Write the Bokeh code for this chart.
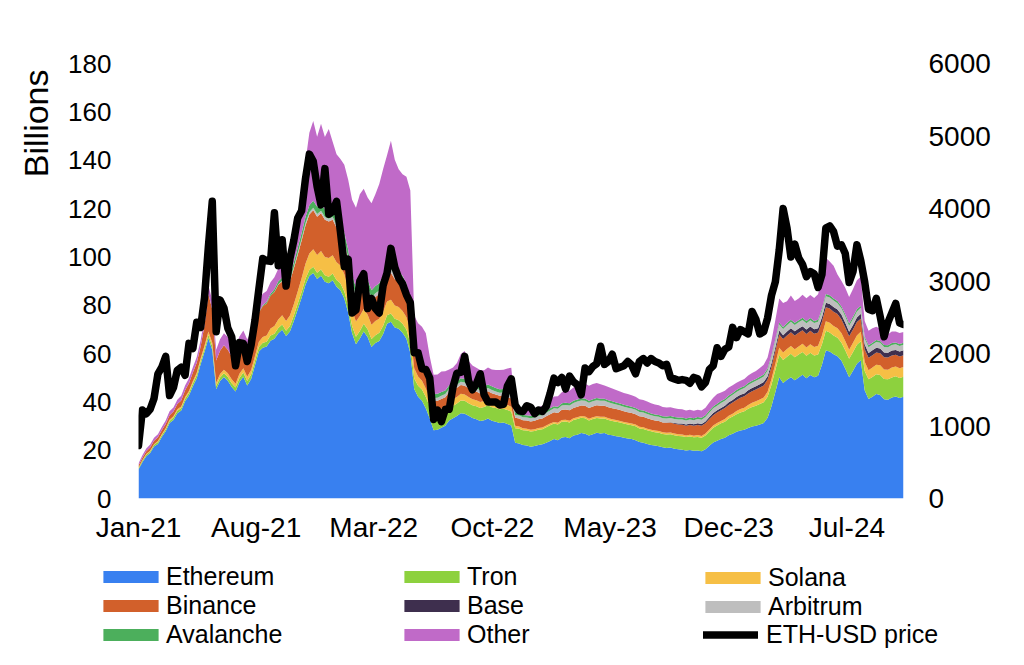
import pandas as pd
from bokeh.plotting import figure
from bokeh.models import (ColumnDataSource, Range1d, LinearAxis, FixedTicker,
                          DatetimeTickFormatter, Legend, LegendItem, Title)
from bokeh.embed import file_html
from bokeh.resources import INLINE

# ---------------- data (weekly, from 2021-01-01) ----------------
START = "2021-01-01"

eth_usd = [
    730, 1220, 1170, 1230, 1380, 1720, 1810, 1960, 1420, 1530,
    1770, 1810, 1700, 2140, 2070, 2430, 2360, 2770, 3480, 4100,
    2300, 2740, 2630, 2350, 2230, 1830, 2150, 2140, 1890, 2120,
    2460, 2890, 3310, 3280, 3270, 3940, 3210, 3570, 2930, 3310,
    3560, 3870, 3970, 4410, 4750, 4650, 4300, 4050, 4550, 3920,
    3960, 4100, 3680, 3200, 3300, 2560, 2600, 3000, 3100, 2620,
    2760, 2620, 2560, 2940, 3110, 3450, 3190, 3040, 2960, 2810,
    2700, 2010, 2010, 1790, 1780, 1660, 1090, 1220, 1060, 1230,
    1230, 1540, 1730, 1740, 1960, 1620, 1500, 1580, 1720, 1430,
    1330, 1330, 1330, 1290, 1300, 1550, 1650, 1290, 1210, 1200,
    1280, 1260, 1170, 1220, 1200, 1270, 1450, 1660, 1600, 1670,
    1510, 1690, 1610, 1570, 1430, 1800, 1750, 1820, 1860, 2100,
    1850, 1890, 1990, 1790, 1810, 1830, 1890, 1840, 1720, 1890,
    1930, 1870, 1930, 1890, 1870, 1830, 1850, 1670, 1650, 1630,
    1640, 1630, 1590, 1670, 1650, 1540, 1600, 1780, 1830, 2080,
    1960, 2060, 2090, 2360, 2220, 2330, 2300, 2270, 2580, 2470,
    2270, 2300, 2490, 2800, 2990, 3430, 4000, 3730, 3330, 3510,
    3320, 3230, 3060, 3130, 3100, 2910, 3090, 3730, 3760, 3680,
    3480, 3500, 3380, 2980, 3130, 3500, 3280, 2990, 2610, 2590,
    2760, 2510, 2230, 2430, 2560, 2690, 2420, 2400,
]

ethereum = [
    12, 15, 17.5, 18.8, 21.5, 22.6, 25.4, 27.8, 31.2, 32.5,
    35.3, 36.4, 40.2, 42.6, 46.5, 49.8, 55.6, 60.7, 66.3, 61.5,
    45.2, 48.6, 50.3, 48.7, 46.1, 44.3, 48.2, 50.4, 46.8, 49.5,
    55.1, 60.8, 62.4, 62.9, 65.3, 66.1, 68.4, 69.8, 67.2, 69.1,
    73.4, 78.2, 83.1, 88.4, 92.1, 93.3, 90.8, 92.2, 89.7, 89.1,
    90.3, 87.6, 86.2, 82.8, 76.9, 68.4, 63.8, 66.2, 69.1, 66.8,
    62.7, 64.3, 65.2, 68.1, 72.3, 73.1, 70.8, 70.2, 68.6, 66.1,
    60.2, 45.3, 42.1, 40.4, 37.2, 33.1, 28.2, 28.4, 29.3, 30.1,
    32.3, 33.2, 34.1, 35.3, 35.1, 34.2, 33.3, 32.8, 32.1, 32.4,
    33.1, 32.2, 31.8, 31.2, 31.4, 30.8, 30.2, 23.1, 22.8, 22.1,
    21.9, 21.4, 21.7, 22.1, 22.4, 23.1, 23.8, 24.6, 24.1, 25.2,
    25.4, 24.9, 26.1, 26.4, 27.1, 26.8, 26.1, 26.6, 27.2, 26.9,
    27.1, 26.4, 26.2, 25.8, 25.6, 25.1, 24.8, 24.6, 24.1, 23.4,
    23.1, 22.6, 22.1, 21.9, 21.6, 21.2, 20.9, 21.1, 20.6, 20.4,
    20.2, 19.9, 20.1, 19.8, 19.9, 19.6, 20.4, 21.8, 23.2, 23.9,
    24.6, 25.1, 26.2, 26.8, 27.6, 28.1, 28.4, 29.2, 29.8, 30.1,
    30.6, 31.2, 33.4, 38.2, 44.1, 50.2, 47.8, 49.1, 50.2, 48.9,
    50.1, 51.2, 49.8, 51.1, 50.2, 50.8, 55.3, 61.2, 60.8, 59.7,
    58.9, 57.1, 53.8, 50.2, 52.9, 55.8, 57.2, 44.8, 41.2, 42.1,
    43.2, 42.8, 41.1, 40.9, 41.8, 42.2, 41.6, 42.1,
]

tron = [
    0.5, 0.6, 0.6, 0.7, 0.7, 0.8, 0.8, 0.9, 0.9, 1.0,
    1.0, 1.1, 1.1, 1.2, 1.2, 1.3, 1.3, 1.4, 1.5, 1.5,
    1.4, 1.5, 1.5, 1.6, 1.6, 1.6, 1.7, 1.7, 1.8, 1.8,
    1.9, 1.9, 2.0, 2.0, 2.1, 2.1, 2.2, 2.2, 2.2, 2.3,
    2.3, 2.4, 2.4, 2.5, 2.5, 2.6, 2.6, 2.6, 2.7, 2.7,
    2.8, 2.8, 2.9, 2.9, 3.0, 3.0, 3.1, 3.1, 3.2, 3.2,
    3.3, 3.3, 3.4, 3.4, 3.5, 3.5, 3.6, 3.6, 3.7, 3.8,
    4.0, 4.4, 4.6, 4.7, 4.8, 4.9, 4.8, 4.9, 5.0, 5.0,
    5.1, 5.1, 5.2, 5.3, 5.3, 5.2, 5.3, 5.4, 5.4, 5.5,
    5.5, 5.6, 5.6, 5.7, 5.7, 5.8, 5.8, 6.0, 6.1, 6.1,
    6.2, 6.3, 6.2, 6.4, 6.3, 6.4, 6.5, 6.4, 6.5, 6.6,
    6.5, 6.6, 6.4, 6.5, 6.3, 6.4, 6.2, 6.3, 6.1, 6.2,
    6.0, 6.1, 5.9, 6.0, 5.8, 5.9, 5.8, 5.7, 5.8, 5.6,
    5.7, 5.6, 5.7, 5.5, 5.6, 5.5, 5.6, 5.5, 5.6, 5.5,
    5.6, 5.5, 5.6, 5.5, 5.6, 5.5, 5.7, 5.9, 6.1, 6.3,
    6.5, 6.7, 6.9, 7.1, 7.3, 7.5, 7.7, 7.9, 8.1, 8.3,
    8.5, 8.6, 8.7, 8.9, 9.1, 9.3, 9.5, 9.6, 9.7, 9.6,
    9.5, 9.4, 9.3, 9.2, 9.0, 8.8, 8.5, 8.2, 7.9, 7.7,
    7.6, 7.5, 7.5, 7.6, 7.7, 7.8, 7.9, 8.0, 8.1, 8.2,
    8.2, 8.3, 8.3, 8.4, 8.3, 8.4, 8.3, 8.3,
]

solana = [
    0.2, 0.2, 0.3, 0.3, 0.3, 0.4, 0.4, 0.4, 0.5, 0.5,
    0.6, 0.6, 0.7, 0.7, 0.8, 0.9, 1.0, 1.1, 1.3, 1.4,
    1.3, 1.4, 1.5, 1.5, 1.6, 1.6, 1.7, 1.8, 1.8, 1.9,
    2.0, 2.2, 2.4, 2.6, 2.9, 3.2, 3.5, 3.8, 4.0, 4.3,
    4.7, 5.1, 5.6, 6.2, 6.8, 7.2, 7.4, 7.6, 7.5, 7.7,
    7.6, 7.4, 7.3, 7.1, 6.8, 6.5, 6.3, 6.2, 6.1, 6.0,
    5.9, 5.8, 5.8, 5.7, 5.7, 5.6, 5.5, 5.4, 5.3, 5.1,
    4.8, 4.2, 3.8, 3.6, 3.4, 3.2, 3.1, 3.0, 2.9, 2.9,
    2.8, 2.8, 2.7, 2.7, 2.6, 2.6, 2.5, 2.5, 2.4, 2.4,
    2.3, 2.3, 2.2, 2.2, 2.1, 2.1, 2.0, 1.0, 0.9, 0.9,
    0.8, 0.8, 0.8, 0.7, 0.7, 0.7, 0.7, 0.7, 0.7, 0.7,
    0.7, 0.7, 0.7, 0.7, 0.7, 0.7, 0.7, 0.7, 0.7, 0.7,
    0.7, 0.7, 0.7, 0.7, 0.7, 0.7, 0.7, 0.7, 0.7, 0.7,
    0.7, 0.7, 0.7, 0.7, 0.7, 0.7, 0.7, 0.7, 0.7, 0.7,
    0.7, 0.7, 0.7, 0.7, 0.8, 0.8, 0.8, 0.9, 0.9, 1.0,
    1.0, 1.1, 1.1, 1.2, 1.3, 1.4, 1.5, 1.6, 1.7, 1.8,
    1.9, 2.0, 2.1, 2.3, 2.6, 2.9, 3.1, 3.2, 3.2, 3.3,
    3.3, 3.4, 3.4, 3.5, 3.5, 3.6, 3.7, 3.9, 4.0, 4.0,
    4.0, 3.9, 3.9, 3.8, 3.8, 3.9, 3.9, 3.8, 3.8, 3.9,
    3.9, 4.0, 4.0, 4.0, 4.1, 4.0, 4.0, 4.0,
]

binance = [
    1.0, 1.1, 1.2, 1.3, 1.4, 1.5, 1.6, 1.7, 1.9, 2.0,
    2.2, 2.5, 2.8, 3.2, 3.6, 4.2, 5.0, 8.5, 15.5, 13.8,
    9.2, 9.6, 10.1, 9.8, 9.5, 9.4, 9.9, 10.2, 10.1, 10.6,
    11.2, 12.1, 12.8, 13.2, 13.6, 14.1, 14.4, 14.0, 13.6, 14.2,
    14.8, 15.2, 15.6, 15.9, 16.1, 16.2, 15.8, 15.6, 15.4, 15.1,
    14.6, 14.2, 13.6, 12.8, 11.6, 10.2, 9.6, 9.9, 10.3, 10.1,
    9.8, 10.0, 10.2, 10.5, 10.9, 11.2, 10.8, 10.5, 10.1, 9.7,
    8.4, 6.2, 5.6, 5.1, 4.8, 4.5, 4.2, 4.1, 4.0, 3.9,
    3.9, 3.8, 3.8, 3.7, 3.7, 3.6, 3.6, 3.6, 3.5, 3.5,
    3.5, 3.5, 3.4, 3.4, 3.4, 3.4, 3.4, 3.3, 3.3, 3.3,
    3.4, 3.4, 3.5, 3.6, 3.7, 3.8, 3.9, 4.0, 4.1, 4.2,
    4.2, 4.3, 4.3, 4.4, 4.4, 4.5, 4.5, 4.5, 4.6, 4.6,
    4.6, 4.6, 4.5, 4.5, 4.5, 4.4, 4.4, 4.4, 4.3, 4.3,
    4.3, 4.3, 4.2, 4.2, 4.2, 4.1, 4.1, 4.1, 4.0, 4.0,
    4.0, 4.0, 4.0, 4.1, 4.1, 4.2, 4.2, 4.3, 4.3, 4.4,
    4.4, 4.5, 4.5, 4.6, 4.6, 4.7, 4.7, 4.8, 4.8, 4.9,
    4.9, 5.0, 5.0, 5.1, 5.3, 5.5, 5.6, 5.6, 5.7, 5.7,
    5.7, 5.6, 5.6, 5.6, 5.5, 5.5, 5.6, 5.8, 5.9, 5.9,
    5.8, 5.7, 5.6, 5.5, 5.5, 5.5, 5.4, 5.2, 5.1, 5.1,
    5.1, 5.0, 5.0, 5.0, 5.0, 4.9, 4.9, 4.9,
]

base = [0.0] * 136 + [
    0.1, 0.2, 0.3, 0.4,
    0.5, 0.5, 0.6, 0.6, 0.7, 0.7, 0.8, 0.8, 0.9, 0.9,
    1.0, 1.0, 1.1, 1.1, 1.2, 1.2, 1.2, 1.3, 1.3, 1.3,
    1.4, 1.4, 1.4, 1.5, 1.5, 1.6, 1.6, 1.6, 1.7, 1.7,
    1.7, 1.7, 1.8, 1.8, 1.8, 1.8, 1.9, 1.9, 1.9, 1.9,
    1.9, 1.9, 1.9, 1.9, 1.9, 1.9, 2.0, 2.0, 2.0, 2.0,
    2.0, 2.0, 2.0, 2.0, 2.0, 2.0, 2.0, 2.0,
]

arbitrum = [0.0] * 35 + [
    0.1, 0.2, 0.3, 0.4, 0.5,
    0.6, 0.7, 0.8, 0.9, 1.0, 1.0, 1.1, 1.1, 1.2, 1.2,
    1.2, 1.3, 1.3, 1.3, 1.4, 1.4, 1.4, 1.4, 1.5, 1.5,
    1.5, 1.5, 1.5, 1.6, 1.6, 1.6, 1.6, 1.6, 1.6, 1.6,
    1.5, 1.4, 1.4, 1.4, 1.4, 1.4, 1.3, 1.3, 1.3, 1.3,
    1.3, 1.3, 1.3, 1.3, 1.3, 1.3, 1.3, 1.3, 1.3, 1.3,
    1.3, 1.3, 1.3, 1.3, 1.3, 1.3, 1.3, 1.2, 1.2, 1.2,
    1.2, 1.3, 1.3, 1.4, 1.4, 1.5, 1.5, 1.6, 1.7, 1.8,
    1.9, 2.0, 2.0, 2.1, 2.1, 2.1, 2.1, 2.1, 2.1, 2.0,
    2.0, 2.0, 2.0, 1.9, 1.9, 1.9, 1.9, 1.8, 1.8, 1.8,
    1.8, 1.8, 1.7, 1.7, 1.7, 1.7, 1.7, 1.7, 1.7, 1.7,
    1.7, 1.7, 1.7, 1.7, 1.8, 1.8, 1.8, 1.9, 1.9, 1.9,
    2.0, 2.0, 2.0, 2.1, 2.1, 2.1, 2.2, 2.2, 2.2, 2.3,
    2.3, 2.3, 2.4, 2.4, 2.5, 2.5, 2.5, 2.6, 2.6, 2.6,
    2.6, 2.6, 2.6, 2.6, 2.6, 2.6, 2.6, 2.7, 2.7, 2.7,
    2.6, 2.6, 2.6, 2.5, 2.5, 2.5, 2.5, 2.4, 2.4, 2.4,
    2.4, 2.3, 2.3, 2.3, 2.3, 2.3, 2.3, 2.3,
]

avalanche = [0.0] * 31 + [
    0.2, 0.4, 0.6, 0.8, 1.0, 1.2, 1.4, 1.6, 1.8,
    2.0, 2.2, 2.4, 2.6, 2.8, 2.9, 3.0, 3.0, 3.1, 3.1,
    3.1, 3.2, 3.2, 3.2, 3.2, 3.1, 3.1, 3.1, 3.0, 3.0,
    3.0, 3.0, 3.0, 3.0, 3.0, 3.0, 2.9, 2.9, 2.9, 2.8,
    2.6, 2.2, 2.0, 1.9, 1.8, 1.7, 1.6, 1.6, 1.6, 1.5,
    1.5, 1.5, 1.5, 1.5, 1.5, 1.5, 1.5, 1.5, 1.5, 1.5,
    1.5, 1.5, 1.4, 1.4, 1.4, 1.4, 1.4, 1.1, 1.1, 1.0,
    1.0, 1.0, 1.0, 0.9, 0.9, 0.9, 0.9, 0.9, 0.9, 0.9,
    0.9, 0.9, 0.9, 0.9, 0.9, 0.9, 0.9, 0.9, 0.9, 0.9,
    0.9, 0.9, 0.9, 0.8, 0.8, 0.8, 0.8, 0.8, 0.8, 0.8,
    0.8, 0.8, 0.8, 0.8, 0.8, 0.8, 0.8, 0.8, 0.8, 0.8,
    0.8, 0.8, 0.8, 0.8, 0.8, 0.8, 0.8, 0.8, 0.8, 0.8,
    0.8, 0.8, 0.8, 0.8, 0.8, 0.8, 0.8, 0.8, 0.8, 0.8,
    0.8, 0.8, 0.8, 0.8, 0.8, 0.8, 0.8, 0.9, 0.9, 0.9,
    0.9, 0.9, 0.9, 0.9, 0.9, 0.9, 0.9, 0.9, 0.9, 0.9,
    0.9, 0.9, 0.9, 0.9, 0.9, 0.9, 0.9, 0.8, 0.8, 0.8,
    0.8, 0.8, 0.8, 0.8, 0.8, 0.8, 0.8, 0.8,
]

other = [
    0.8, 1.0, 1.1, 1.2, 1.2, 1.3, 1.4, 1.5, 1.6, 1.7,
    1.8, 1.9, 2.0, 2.1, 2.2, 2.4, 2.6, 3.0, 3.5, 3.8,
    4.5, 4.8, 5.0, 5.2, 5.3, 5.4, 5.5, 5.4, 5.3, 5.2,
    5.0, 4.8, 4.7, 4.6, 4.8, 5.0, 5.2, 5.5, 5.8, 6.2,
    7.0, 11.0, 17.0, 23.0, 30.0, 33.0, 29.0, 33.0, 30.0, 34.0,
    28.0, 26.0, 26.0, 28.0, 29.0, 31.0, 33.0, 36.0, 35.0, 34.0,
    36.0, 38.0, 41.0, 44.0, 45.0, 50.0, 45.0, 42.0, 42.0, 44.0,
    46.0, 12.0, 13.0, 14.0, 15.0, 10.0, 8.0, 8.0, 8.5, 8.0,
    6.5, 6.5, 7.5, 10.0, 11.5, 8.5, 7.5, 7.0, 7.0, 6.5,
    7.0, 7.0, 7.5, 8.0, 8.0, 9.0, 10.0, 2.0, 2.0, 2.2,
    2.3, 2.5, 2.6, 2.8, 3.0, 3.3, 3.6, 4.0, 4.3, 4.6,
    5.0, 5.2, 5.5, 5.8, 6.0, 6.2, 6.2, 6.3, 6.2, 6.0,
    5.5, 5.4, 5.3, 5.2, 5.0, 4.9, 4.8, 4.7, 4.6, 4.5,
    4.4, 4.3, 4.2, 4.1, 4.0, 3.9, 3.8, 3.7, 3.6, 3.5,
    3.4, 3.3, 3.2, 3.1, 3.0, 3.0, 3.1, 3.3, 3.6, 4.0,
    3.6, 3.4, 3.3, 3.2, 3.0, 2.9, 3.0, 3.1, 3.2, 3.3,
    3.6, 4.0, 4.5, 6.0, 8.0, 10.0, 10.0, 9.0, 10.0, 9.0,
    9.0, 9.5, 9.5, 9.5, 9.5, 10.5, 12.0, 15.0, 14.0, 13.5,
    11.0, 10.5, 11.0, 11.0, 11.5, 12.0, 12.0, 6.5, 6.0, 6.0,
    5.5, 5.0, 4.8, 4.6, 4.8, 4.5, 4.6, 4.5,
]

series_names = ["Ethereum", "Tron", "Solana", "Binance", "Base", "Arbitrum", "Avalanche", "Other"]
series_colors = ["#3880F0", "#8DD13E", "#F6BF45", "#D2602B", "#3E2F4E", "#BEBEBE", "#4CAF5C", "#C06AC8"]
price_label = "ETH-USD price"
y_title = "Billions"
legend_columns = [["Ethereum", "Binance", "Avalanche"],
                  ["Tron", "Base", "Other"],
                  ["Solana", "Arbitrum"]]

left_ticks = [0, 20, 40, 60, 80, 100, 120, 140, 160, 180]
right_ticks = [0, 1000, 2000, 3000, 4000, 5000, 6000]
x_tick_dates = ["2021-01-01", "2021-08-01", "2022-03-01", "2022-10-01",
                "2023-05-01", "2023-12-01", "2024-07-01"]

# ---------------- main chart ----------------
dates = pd.date_range(START, periods=len(eth_usd), freq="7D")
src = ColumnDataSource(dict(
    date=dates, Ethereum=ethereum, Tron=tron, Solana=solana, Binance=binance,
    Base=base, Arbitrum=arbitrum, Avalanche=avalanche, Other=other, price=eth_usd))

FONT = "Liberation Sans"
W = 1008

p = figure(width=W, height=545, x_axis_type="datetime",
           output_backend="svg", toolbar_location=None,
           x_range=Range1d(dates[0].to_pydatetime(), dates[-1].to_pydatetime()),
           y_range=Range1d(0, 180),
           min_border_left=138, min_border_right=105,
           min_border_top=63, min_border_bottom=46)
p.outline_line_color = None
p.xgrid.visible = False
p.ygrid.visible = False
p.background_fill_color = "white"
p.border_fill_color = "white"
p.extra_y_ranges = {"price": Range1d(0, 6000)}

p.varea_stack(stackers=series_names, x="date", color=series_colors, source=src)
p.line("date", "price", source=src, y_range_name="price",
       line_color="black", line_width=7.5, line_join="round", line_cap="round")

right_axis = LinearAxis(y_range_name="price", ticker=FixedTicker(ticks=right_ticks))
p.add_layout(right_axis, "right")

p.yaxis[0].ticker = FixedTicker(ticks=left_ticks)
tick_ms = [pd.Timestamp(d).value // 10**6 for d in x_tick_dates]
p.xaxis.ticker = FixedTicker(ticks=tick_ms)
fmt = "%b-%y"
p.xaxis.formatter = DatetimeTickFormatter(years=fmt, months=fmt, days=fmt, hours=fmt,
                                          minutes=fmt, seconds=fmt, milliseconds=fmt,
                                          microseconds=fmt, hourmin=fmt, minsec=fmt)

for ax in [p.xaxis[0], p.yaxis[0], right_axis]:
    ax.axis_line_color = None
    ax.major_tick_line_color = None
    ax.minor_tick_line_color = None
    ax.major_label_text_font = FONT
    ax.major_label_text_color = "black"
p.yaxis[0].major_label_text_font_size = "26px"
right_axis.major_label_text_font_size = "28px"
p.xaxis[0].major_label_text_font_size = "28px"
p.xaxis[0].major_label_standoff = 7
p.yaxis[0].major_label_standoff = 21
right_axis.major_label_standoff = 19

ttl = Title(text=y_title, align="right", offset=6, standoff=21,
            text_font=FONT, text_font_size="34px", text_font_style="normal",
            text_color="black")
p.add_layout(ttl, "left")

# ---------------- legend strip (same data, off-range so only legend shows) ----------------
q = figure(width=W, height=113, output_backend="svg", toolbar_location=None,
           x_range=Range1d(0, 1), y_range=Range1d(0, 1),
           x_axis_location=None, y_axis_location=None,
           min_border_left=0, min_border_right=0, min_border_top=0, min_border_bottom=0)
q.outline_line_color = None
q.xgrid.visible = False
q.ygrid.visible = False

q_areas = q.varea_stack(stackers=series_names, x="date", color=series_colors, source=src)
q_line = q.line("date", "price", source=src, line_color="black", line_width=7.5,
                line_join="round", line_cap="round")
proxies = dict(zip(series_names, q_areas))

common = dict(orientation="vertical", spacing=0, padding=0, margin=0,
              border_line_color=None, background_fill_alpha=0,
              label_text_font=FONT, label_text_font_size="25px",
              label_text_color="black", label_height=12)

# area swatches (Bokeh insets area swatches by 10%, so the box is 69x15 for a 55x12 swatch)
for names, lx in zip(legend_columns, [96, 397, 698]):
    lg = Legend(items=[LegendItem(label=t, renderers=[proxies[t]]) for t in names],
                location=(lx, 9 + (28 if len(names) == 2 else 0)),
                glyph_width=69, glyph_height=15, label_standoff=1, **common)
    q.add_layout(lg)

lg_line = Legend(items=[LegendItem(label=price_label, renderers=[q_line])],
                 location=(703, 9), glyph_width=55, glyph_height=15,
                 label_standoff=8, **common)
q.add_layout(lg_line)

open("out.html", "w").write(file_html([p, q], INLINE))
